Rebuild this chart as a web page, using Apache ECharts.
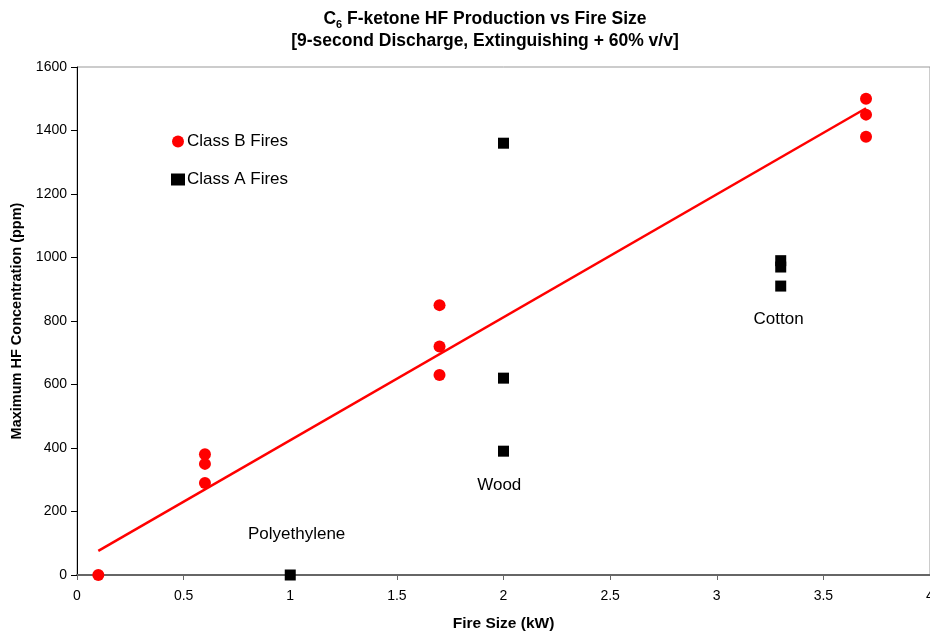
<!DOCTYPE html>
<html><head><meta charset="utf-8">
<script src="https://cdn.jsdelivr.net/npm/echarts@6/dist/echarts.min.js"></script>
<style>html,body{margin:0;padding:0;background:#fff}#c{width:930px;height:637px}</style>
</head><body><div id="c"></div>
<script>
const classB = [[0.1,0],[0.6,380],[0.6,350],[0.6,290],[1.7,850],[1.7,720],[1.7,630],[3.7,1500],[3.7,1450],[3.7,1380]];
const classA = [[1,0],[2,1360],[2,620],[2,390],[3.3,990],[3.3,970],[3.3,910]];
const trend = [[0.1,76],[3.7,1470]];
const notes = [[1.03,129,'Polyethylene'],[1.98,283,'Wood'],[3.29,806,'Cotton']];
const F = 'Liberation Sans, Arial, sans-serif';
const chart = echarts.init(document.getElementById('c'));
chart.setOption({
  animation:false,
  textStyle:{fontFamily:F},
  title:{
    text:'{b|C}{s|6}{b| F-ketone HF Production vs Fire Size}\n{b|[9-second Discharge, Extinguishing + 60% v/v]}',
    left:480, top:3, textAlign:'center',
    textStyle:{rich:{
      b:{fontFamily:F,fontWeight:'bold',fontSize:17.5,color:'#000',lineHeight:22},
      s:{fontFamily:F,fontWeight:'bold',fontSize:11,color:'#000',verticalAlign:'bottom',padding:[7,0,0,0],lineHeight:22}
    }}
  },
  legend:{
    orient:'vertical', left:166, top:128, itemGap:21, itemWidth:14, itemHeight:12,
    textStyle:{fontFamily:F,fontSize:17,color:'#000',padding:[0,0,0,-3]},
    data:[{name:'Class B Fires',icon:'circle'},{name:'Class A Fires',icon:'rect'}]
  },
  grid:{left:77,top:67,right:0,bottom:62,show:true,borderColor:'#999',borderWidth:1,outerBoundsMode:'none',containLabel:false},
  xAxis:{
    type:'value',min:0,max:4,interval:0.5,
    name:'Fire Size (kW)',nameLocation:'middle',nameGap:41,
    nameTextStyle:{fontFamily:F,fontWeight:'bold',fontSize:15.5,color:'#000'},
    axisLine:{lineStyle:{color:'#666',width:2}},
    axisTick:{show:true,length:5,lineStyle:{color:'#666'}},
    axisLabel:{color:'#000',fontSize:14,fontFamily:F,margin:14,showMaxLabel:true},
    splitLine:{show:false}
  },
  yAxis:{
    type:'value',min:0,max:1600,interval:200,
    name:'Maximum HF Concentration (ppm)',nameLocation:'middle',nameGap:52,nameRotate:90,
    nameTextStyle:{fontFamily:F,fontWeight:'bold',fontSize:14.5,color:'#000'},
    axisLine:{show:true,lineStyle:{color:'#000',width:1}},
    axisTick:{show:true,length:6,lineStyle:{color:'#000'}},
    axisLabel:{color:'#000',fontSize:14,fontFamily:F,margin:10,formatter:v=>String(v)},
    splitLine:{show:false}
  },
  series:[
    {name:'trend',type:'line',data:trend,symbol:'none',lineStyle:{color:'#ff0000',width:2.5},z:3,silent:true},
    {name:'Class B Fires',type:'scatter',data:classB,symbol:'circle',symbolSize:12,itemStyle:{color:'#ff0000',opacity:1},z:4},
    {name:'Class A Fires',type:'scatter',data:classA,symbol:'rect',symbolSize:11,itemStyle:{color:'#000',opacity:1},z:4},
    {name:'notes',type:'scatter',data:notes.map(n=>({value:[n[0],n[1]],label:{formatter:n[2]}})),
     symbolSize:0,silent:true,itemStyle:{opacity:1},
     label:{show:true,position:'inside',color:'#000',opacity:1,fontSize:17,fontFamily:F}}
  ]
});
</script></body></html>
